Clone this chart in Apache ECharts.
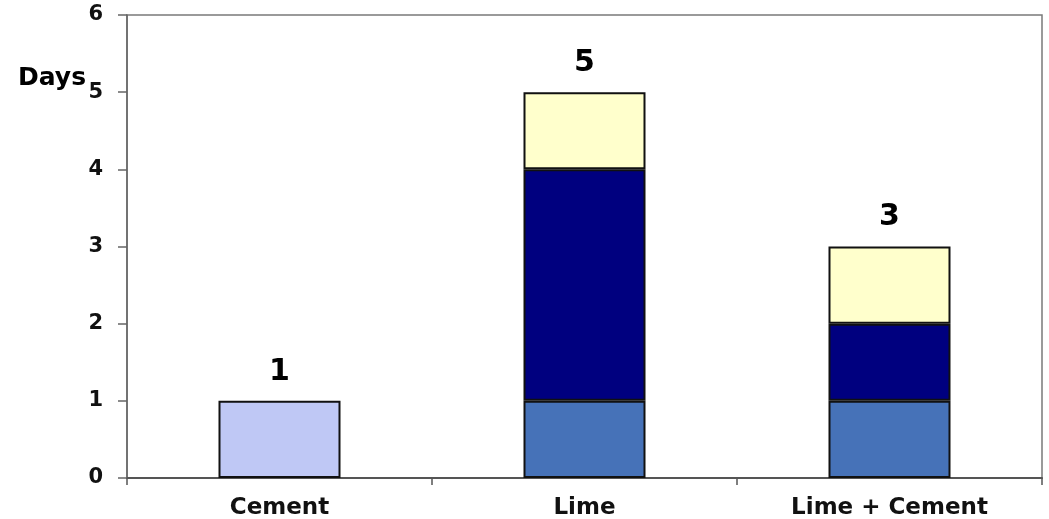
<!DOCTYPE html>
<html>
<head>
<meta charset="utf-8">
<script src="https://cdn.jsdelivr.net/npm/echarts@6/dist/echarts.min.js"></script>
<style>
  html, body { margin: 0; padding: 0; background: #fff; }
  #chart { width: 1049px; height: 519px; }
</style>
</head>
<body>
<div id="chart"></div>
<script>
// Curing time per stabiliser, stacked by stage
const categories = ['Cement', 'Lime', 'Lime + Cement'];
const cementOnly = [1, '-', '-'];
const stageA = ['-', 1, 1];
const stageB = ['-', 3, 1];
const stageC = ['-', 1, 1];
const yTicks = [0, 1, 2, 3, 4, 5, 6];

// Totals shown above each stack
const totals = categories.map((_, i) =>
  [cementOnly, stageA, stageB, stageC]
    .map(a => (typeof a[i] === 'number' ? a[i] : 0))
    .reduce((s, v) => s + v, 0)
);

const FONT = '"DejaVu Sans", sans-serif';
const chart = echarts.init(document.getElementById('chart'));

const totalLabel = {
  show: true,
  position: 'top',
  distance: 14,
  fontFamily: FONT,
  fontWeight: 'bold',
  fontSize: 30,
  color: '#000',
  formatter: p => String(totals[p.dataIndex])
};

function barSeries(name, data, color, label) {
  return {
    name: name,
    type: 'bar',
    stack: 'days',
    data: data,
    barWidth: '40%',
    itemStyle: { color: color, borderColor: '#111', borderWidth: 2 },
    label: label || { show: false },
    emphasis: { disabled: true },
    animation: false
  };
}

chart.setOption({
  animation: false,
  grid: {
    left: 127, right: 7, top: 15, bottom: 41,
    outerBoundsMode: 'none',
    show: true, borderColor: '#7a7a7a', borderWidth: 1.5
  },
  graphic: [{
    type: 'text',
    left: 18,
    top: 66,
    style: {
      text: 'Days',
      fontFamily: FONT,
      fontWeight: 'bold',
      fontSize: 25,
      fill: '#000'
    }
  }],
  xAxis: {
    type: 'category',
    data: categories,
    axisLine: { show: true, lineStyle: { color: '#555', width: 2 } },
    axisTick: { show: true, length: 7, lineStyle: { color: '#555', width: 1.5 } },
    axisLabel: {
      margin: 19,
      fontFamily: FONT,
      fontWeight: 'bold',
      fontSize: 23,
      color: '#111'
    },
    splitLine: { show: false }
  },
  yAxis: {
    type: 'value',
    min: yTicks[0],
    max: yTicks[yTicks.length - 1],
    interval: 1,
    axisLine: { show: true, lineStyle: { color: '#666', width: 1.5 } },
    axisTick: { show: true, length: 9, lineStyle: { color: '#666', width: 1.5 } },
    axisLabel: {
      margin: 24,
      fontFamily: FONT,
      fontWeight: 'bold',
      fontSize: 21,
      color: '#111'
    },
    splitLine: { show: false }
  },
  series: [
    barSeries('Cement', cementOnly, '#bfc8f5', totalLabel),
    barSeries('Stage A', stageA, '#4672b8'),
    barSeries('Stage B', stageB, '#00007f'),
    barSeries('Stage C', stageC, '#ffffcc', totalLabel)
  ]
});
</script>
</body>
</html>
